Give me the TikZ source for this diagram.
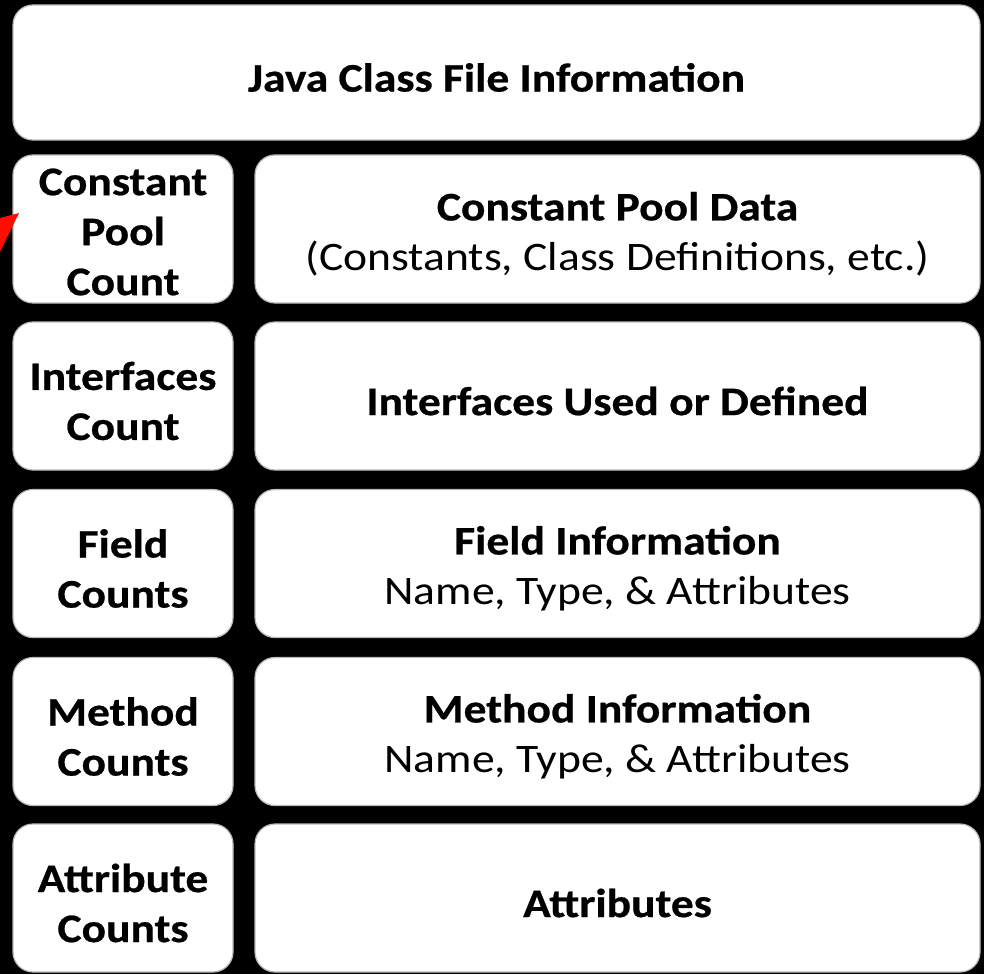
\documentclass[tikz,border=0pt]{standalone}
\usepackage{fontspec}
\setmainfont{Carlito}[FakeStretch=1.125, BoldFeatures={FakeBold=0.6}]
\begin{document}
\begin{tikzpicture}[x=1pt,y=-1pt,
  box/.style={draw=gray!55, line width=1.2pt, fill=white, rounded corners=20pt, inner sep=0pt},
  cell/.style={box, minimum width=220pt, minimum height=148pt},
  wide/.style={box, minimum width=725pt, minimum height=148pt},
  txt/.style={align=center, inner sep=0pt, yshift=-5pt,
    font=\fontsize{40.5}{50}\selectfont}]
  % black canvas
  \fill[black] (0,0) rectangle (984,974);
  \useasboundingbox (0,0) rectangle (984,974);

  % header
  \node[box, minimum width=967pt, minimum height=135pt] (title) at (496.5,72.5) {};
  \node[txt] (titletxt) at (title.center) {\bfseries Java Class File Information};

  % left column: counts
  \node[cell] (cpc) at (123,229) {};
  \node[cell] (ic)  at (123,396) {};
  \node[cell] (fc)  at (123,563.5) {};
  \node[cell] (mc)  at (123,731.5) {};
  \node[cell] (ac)  at (123,898) {};
  \node[txt, yshift=2pt] (cpctxt) at (cpc.center) {\bfseries Constant\\\bfseries Pool\\\bfseries Count};
  \node[txt] (ictxt)  at (ic.center) {\bfseries Interfaces\\\bfseries Count};
  \node[txt] (fctxt)  at (fc.center) {\bfseries Field\\\bfseries Counts};
  \node[txt] (mctxt)  at (mc.center) {\bfseries Method\\\bfseries Counts};
  \node[txt] (actxt)  at (ac.center) {\bfseries Attribute\\\bfseries Counts};

  % right column: tables
  \node[wide] (cpd) at (617.5,229) {};
  \node[wide] (iud) at (617.5,396) {};
  \node[wide] (fi)  at (617.5,563.5) {};
  \node[wide] (mi)  at (617.5,731.5) {};
  \node[wide] (at)  at (617.5,898) {};
  \node[txt] (cpdtxt) at (cpd.center) {\bfseries Constant Pool Data\\(Constants, Class Definitions, etc.)};
  \node[txt] (iudtxt) at (iud.center) {\bfseries Interfaces Used or Defined};
  \node[txt] (fitxt)  at (fi.center) {\bfseries Field Information\\Name, Type, \& Attributes};
  \node[txt] (mitxt)  at (mi.center) {\bfseries Method Information\\Name, Type, \& Attributes};
  \node[txt] (attxt)  at (at.center) {\bfseries Attributes};

  % red pointer tip entering from the left edge
  \coordinate (tip) at (19,213);
  \fill[red!90!orange] (tip) -- (0,218) -- (0,252) -- cycle;
\end{tikzpicture}
\end{document}
